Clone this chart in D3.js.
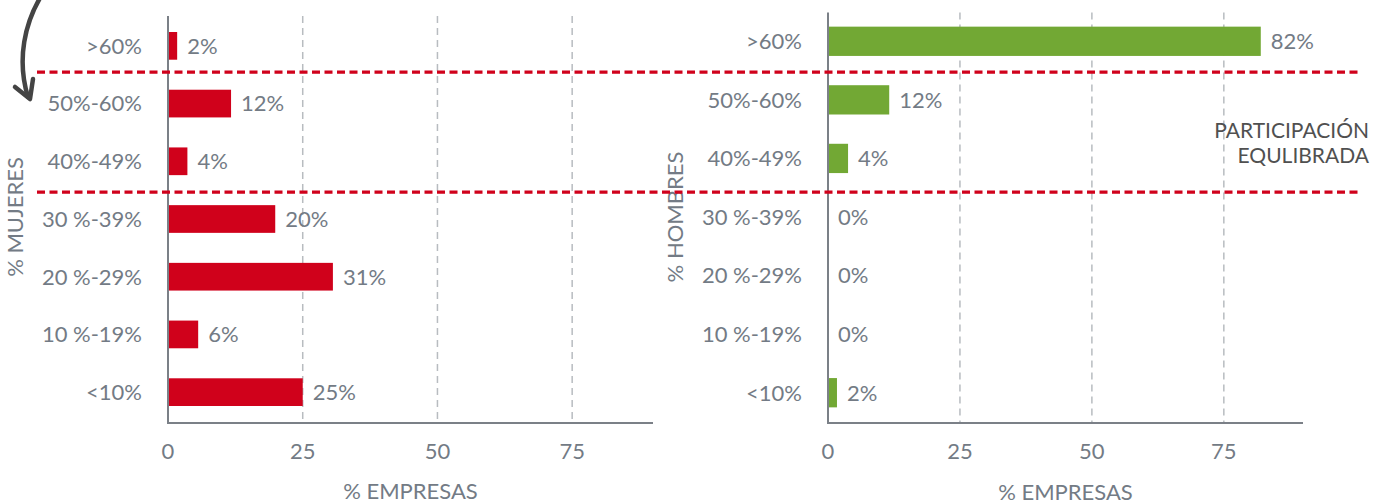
<!DOCTYPE html>
<html>
<head>
<meta charset="utf-8">
<title>% mujeres / % hombres</title>
<script src="https://cdn.jsdelivr.net/npm/d3@7"></script>
<style>
    body { margin: 0; background: #fff; }
    svg { display: block; font-family: Lato, "Open Sans", sans-serif; }
    .cat, .val, .tick-lbl, .ttl { fill: #737b85; font-size: 22px; }
    .grid { stroke: #b8bcc0; stroke-width: 1.5px; stroke-dasharray: 7 5; }
    .axis-line { stroke: #7b8087; stroke-width: 2px; }
    .band-line { stroke: #d0011b; stroke-width: 3.3px; stroke-dasharray: 8 4.5; }
    .note { fill: #505050; font-size: 21px; }
</style>
</head>
<body>
<script>
var categories = [">60%", "50%-60%", "40%-49%", "30 %-39%", "20 %-29%", "10 %-19%", "<10%"];
var mujeres = [1.7, 11.7, 3.6, 19.9, 30.6, 5.6, 25.0];
var hombres = [82.0, 11.6, 3.8, 0, 0, 0, 1.7];
var xTicks = [0, 25, 50, 75];
var xMax = 90;
// dashed lines that mark the "balanced" zone: between these category pairs
var zoneLimits = [[">60%", "50%-60%", -2.5], ["40%-49%", "30 %-39%", 2]];
var noteLines = ["PARTICIPACIÓN", "EQULIBRADA"];

var width = 1373, height = 504;
var svg = d3.select("body").append("svg")
    .attr("width", width)
    .attr("height", height);

var fmt = function (v) { return Math.round(v) + "%"; };

function panel(cfg) {
    var x = d3.scaleLinear().domain([0, xMax]).range([cfg.x0, cfg.x1]);
    var y = d3.scaleBand().domain(categories).range([cfg.y0, cfg.y1])
        .paddingInner(cfg.pad).paddingOuter(cfg.pad / 2);
    var g = svg.append("g");
    var axisY = 423;

    g.selectAll(".grid")
        .data(xTicks.filter(function (t) { return t > 0; }))
        .enter().append("line")
        .attr("class", "grid")
        .attr("x1", function (d) { return x(d); })
        .attr("x2", function (d) { return x(d); })
        .attr("y1", cfg.top)
        .attr("y2", axisY);

    g.selectAll(".bar")
        .data(cfg.values)
        .enter().append("rect")
        .attr("class", "bar")
        .attr("x", x(0))
        .attr("y", function (d, i) { return y(categories[i]); })
        .attr("width", function (d) { return x(d) - x(0); })
        .attr("height", y.bandwidth())
        .attr("fill", cfg.color);

    g.selectAll(".val")
        .data(cfg.values)
        .enter().append("text")
        .attr("class", "val")
        .attr("x", function (d) { return x(d) + 10; })
        .attr("y", function (d, i) { return y(categories[i]) + y.bandwidth() / 2; })
        .attr("dy", "0.36em")
        .text(fmt);

    g.selectAll(".cat")
        .data(categories)
        .enter().append("text")
        .attr("class", "cat")
        .attr("text-anchor", "end")
        .attr("x", cfg.x0 - 26)
        .attr("y", function (d) { return y(d) + y.bandwidth() / 2; })
        .attr("dy", "0.36em")
        .text(function (d) { return d; });

    g.append("line").attr("class", "axis-line")
        .attr("x1", x(0)).attr("x2", x(0))
        .attr("y1", cfg.top).attr("y2", axisY + 1);
    g.append("line").attr("class", "axis-line")
        .attr("x1", x(0) - 1).attr("x2", x(xMax))
        .attr("y1", axisY).attr("y2", axisY);

    g.selectAll(".tick-lbl")
        .data(xTicks)
        .enter().append("text")
        .attr("class", "tick-lbl")
        .attr("text-anchor", "middle")
        .attr("x", function (d) { return x(d); })
        .attr("y", 459)
        .text(function (d) { return d; });

    g.append("text").attr("class", "ttl")
        .attr("text-anchor", "middle")
        .attr("x", (x(0) + x(xMax)) / 2)
        .attr("y", cfg.xTitleY)
        .text("% EMPRESAS");

    g.append("text").attr("class", "ttl")
        .attr("text-anchor", "middle")
        .attr("transform", "translate(" + cfg.yTitleX + ",217) rotate(-90)")
        .text(cfg.yTitle);

    return y;
}

var yLeft = panel({ x0: 168, x1: 653, y0: 17, y1: 421, top: 16, pad: 0.52,
    values: mujeres, color: "#d0011b", yTitle: "% MUJERES", yTitleX: 23, xTitleY: 499 });
panel({ x0: 828, x1: 1303, y0: 12, y1: 422, top: 12.5, pad: 0.5,
    values: hombres, color: "#72a834", yTitle: "% HOMBRES", yTitleX: 683, xTitleY: 500 });

// red dashed lines across both panels
svg.selectAll(".band-line")
    .data(zoneLimits)
    .enter().append("line")
    .attr("class", "band-line")
    .attr("x1", 37).attr("x2", 1360)
    .attr("y1", function (d) { return (yLeft(d[0]) + yLeft.bandwidth() + yLeft(d[1])) / 2 + d[2]; })
    .attr("y2", function (d) { return (yLeft(d[0]) + yLeft.bandwidth() + yLeft(d[1])) / 2 + d[2]; });

svg.selectAll(".note")
    .data(noteLines)
    .enter().append("text")
    .attr("class", "note")
    .attr("text-anchor", "end")
    .attr("x", 1369)
    .attr("y", function (d, i) { return 138 + i * 25; })
    .text(function (d) { return d; });

// hand-drawn arrow at top left
svg.append("path")
    .attr("d", "M40,-2 C26,22 16,58 28,97")
    .attr("fill", "none")
    .attr("stroke", "#444")
    .attr("stroke-width", 4.5)
    .attr("stroke-linecap", "round");
svg.append("path")
    .attr("d", "M15,87 L30,99 L33,79")
    .attr("fill", "none")
    .attr("stroke", "#444")
    .attr("stroke-width", 4.5)
    .attr("stroke-linecap", "round")
    .attr("stroke-linejoin", "round");
</script>
</body>
</html>
